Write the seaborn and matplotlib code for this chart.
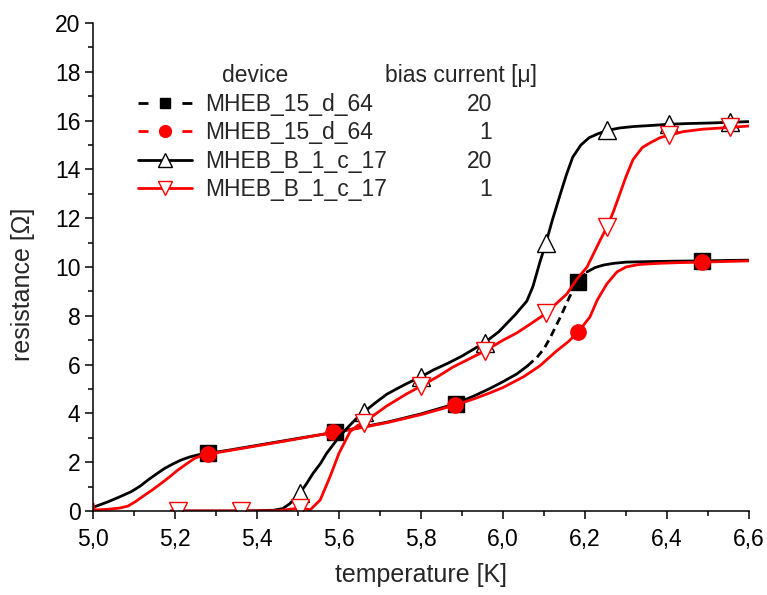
import numpy as np
import pandas as pd
import matplotlib
matplotlib.use("Agg")
import matplotlib.pyplot as plt
from matplotlib.lines import Line2D
from matplotlib.ticker import MultipleLocator, FixedLocator, FixedFormatter
import seaborn as sns

# ---- measured R(T) curves ------------------------------------------------
# MHEB_15_d_64, bias 20
temp_d64_20 = [5.00, 5.037, 5.065, 5.093, 5.115, 5.134, 5.155, 5.175, 5.195, 5.215,
               5.235, 5.256, 5.28, 5.33, 5.40, 5.47, 5.53, 5.59, 5.65, 5.72, 5.80,
               5.885, 5.93, 5.968, 6.00, 6.034, 6.06, 6.083, 6.10, 6.115, 6.14, 6.163,
               6.183, 6.205, 6.225, 6.245, 6.27, 6.30, 6.35, 6.42, 6.485, 6.55, 6.60]
res_d64_20 = [0.15, 0.38, 0.58, 0.79, 1.02, 1.27, 1.52, 1.75, 1.93, 2.09,
              2.21, 2.30, 2.36, 2.49, 2.69, 2.89, 3.06, 3.22, 3.42, 3.65, 3.98,
              4.40, 4.72, 5.02, 5.30, 5.62, 5.95, 6.30, 6.65, 7.10, 7.95, 8.80,
              9.40, 9.80, 9.98, 10.08, 10.15, 10.20, 10.22, 10.24, 10.25, 10.27, 10.28]
marks_d64_20 = [5.28, 5.59, 5.885, 6.183, 6.485]
dashed_span_d64_20 = (6.06, 6.205)

# MHEB_15_d_64, bias 1
temp_d64_1 = [5.00, 5.003, 5.037, 5.065, 5.085, 5.105, 5.126, 5.146, 5.166, 5.187,
              5.207, 5.228, 5.248, 5.265, 5.28, 5.33, 5.40, 5.47, 5.53, 5.585, 5.65,
              5.72, 5.80, 5.883, 5.93, 5.968, 6.00, 6.05, 6.09, 6.13, 6.16, 6.183,
              6.212, 6.23, 6.253, 6.278, 6.30, 6.33, 6.38, 6.43, 6.485, 6.55, 6.60]
res_d64_1 = [0.30, 0.04, 0.07, 0.12, 0.20, 0.40, 0.65, 0.88, 1.13, 1.40,
             1.68, 1.93, 2.16, 2.27, 2.33, 2.47, 2.67, 2.87, 3.05, 3.22, 3.40,
             3.63, 3.95, 4.34, 4.60, 4.84, 5.06, 5.50, 5.95, 6.55, 6.95, 7.33,
             7.95, 8.65, 9.30, 9.80, 10.00, 10.10, 10.15, 10.18, 10.20, 10.23, 10.25]
marks_d64_1 = [5.28, 5.585, 5.883, 6.183, 6.485]

# MHEB_B_1_c_17, bias 20
temp_c17_20 = [5.19, 5.207, 5.36, 5.44, 5.463, 5.48, 5.505, 5.52, 5.537, 5.555,
               5.57, 5.585, 5.60, 5.62, 5.64, 5.66, 5.69, 5.716, 5.74, 5.765, 5.80,
               5.83, 5.865, 5.90, 5.955, 5.99, 6.03, 6.058, 6.073, 6.09, 6.105, 6.12,
               6.14, 6.155, 6.17, 6.19, 6.21, 6.23, 6.254, 6.285, 6.32, 6.36, 6.404,
               6.45, 6.50, 6.553, 6.60]
res_c17_20 = [0.00, 0.00, 0.00, 0.03, 0.10, 0.30, 0.74, 1.10, 1.55, 1.95,
              2.37, 2.70, 3.03, 3.40, 3.75, 4.05, 4.45, 4.78, 5.00, 5.22, 5.50,
              5.78, 6.05, 6.35, 6.90, 7.35, 8.05, 8.60, 9.20, 10.20, 11.00, 11.90,
              13.00, 13.80, 14.50, 15.00, 15.30, 15.45, 15.60, 15.70, 15.76, 15.80, 15.85,
              15.88, 15.90, 15.93, 15.96]
marks_c17_20 = [5.207, 5.36, 5.505, 5.66, 5.80, 5.955, 6.105, 6.254, 6.404, 6.553]

# MHEB_B_1_c_17, bias 1
temp_c17_1 = [5.19, 5.207, 5.36, 5.45, 5.505, 5.53, 5.554, 5.578, 5.60, 5.627,
              5.645, 5.66, 5.683, 5.716, 5.765, 5.80, 5.84, 5.878, 5.955, 6.00,
              6.034, 6.07, 6.105, 6.13, 6.156, 6.18, 6.205, 6.237, 6.254, 6.27, 6.285,
              6.30, 6.317, 6.34, 6.36, 6.383, 6.404, 6.44, 6.488, 6.553, 6.60]
res_c17_1 = [0.00, 0.00, 0.00, 0.01, 0.12, 0.05, 0.45, 1.40, 2.37, 3.25,
             3.50, 3.62, 3.90, 4.30, 4.80, 5.12, 5.50, 5.90, 6.55, 7.00,
             7.30, 7.70, 8.10, 8.50, 8.90, 9.50, 10.00, 11.10, 11.65, 12.30, 13.00,
             13.70, 14.40, 14.90, 15.10, 15.30, 15.40, 15.55, 15.65, 15.72, 15.78]
marks_c17_1 = [5.207, 5.36, 5.505, 5.66, 5.80, 5.955, 6.105, 6.254, 6.404, 6.553]

devices = ["MHEB_15_d_64", "MHEB_15_d_64", "MHEB_B_1_c_17", "MHEB_B_1_c_17"]
bias_currents = ["20", "1", "20", "1"]

x_ticks = [5.0, 5.2, 5.4, 5.6, 5.8, 6.0, 6.2, 6.4, 6.6]
x_tick_labels = ["5,0", "5,2", "5,4", "5,6", "5,8", "6,0", "6,2", "6,4", "6,6"]
y_ticks = [0, 2, 4, 6, 8, 10, 12, 14, 16, 18, 20]

# ---- style ----------------------------------------------------------------
sns.set_style("ticks")
plt.rcParams["font.family"] = ["Liberation Sans", "DejaVu Sans"]

fig = plt.figure(figsize=(7.67, 5.95), dpi=100)
ax = fig.add_axes([0.1213, 0.1412, 0.8552, 0.8201])

LW = 2.0
MARKER_SIZE = {"s": 11, "o": 11, "^": 12.5, "v": 12.5}


def frame(t, r, marks):
    df = pd.DataFrame({"T": t, "R": r})
    df["marked"] = df["T"].isin(marks)
    return df


def draw(df, color, marker, mfc, line_pieces=None):
    pieces = line_pieces if line_pieces is not None else [(df, "-")]
    for part, ls in pieces:
        sns.lineplot(data=part, x="T", y="R", ax=ax, color=color, lw=LW,
                     sort=False, estimator=None, legend=False)
        if ls != "-":
            ax.get_lines()[-1].set_dashes((2.8, 1.8))
    m = df[df["marked"]]
    sns.lineplot(data=m, x="T", y="R", ax=ax, color=color, linestyle="none",
                 marker=marker, markersize=MARKER_SIZE[marker], mfc=mfc, mec=color,
                 mew=1.0, sort=False, estimator=None, legend=False)


d1 = frame(temp_d64_20, res_d64_20, marks_d64_20)
lo, hi = dashed_span_d64_20
pieces_d1 = [(d1[d1["T"] <= lo], "-"),
             (d1[(d1["T"] >= lo) & (d1["T"] <= hi)], "--"),
             (d1[d1["T"] >= hi], "-")]
draw(d1, "black", "s", "black", pieces_d1)

d2 = frame(temp_d64_1, res_d64_1, marks_d64_1)
draw(d2, "red", "o", "red")

d3 = frame(temp_c17_20, res_c17_20, marks_c17_20)
draw(d3, "black", "^", "white")

d4 = frame(temp_c17_1, res_c17_1, marks_c17_1)
draw(d4, "red", "v", "white")

# ---- axes -----------------------------------------------------------------
ax.set_xlim(5.0, 6.6)
ax.set_ylim(0, 20)
ax.xaxis.set_major_locator(FixedLocator(x_ticks))
ax.xaxis.set_major_formatter(FixedFormatter(x_tick_labels))
ax.xaxis.set_minor_locator(MultipleLocator(0.1))
ax.yaxis.set_major_locator(FixedLocator(y_ticks))
ax.yaxis.set_minor_locator(MultipleLocator(1))
ax.tick_params(which="both", direction="out", width=1.1, color="black",
               labelsize=16.5, labelcolor="black")
ax.tick_params(which="major", length=6)
ax.tick_params(which="minor", length=3.4)
ax.tick_params(axis="x", which="major", pad=6)
ax.tick_params(axis="y", which="major", pad=3)
sns.despine(ax=ax)
for s in ("left", "bottom"):
    ax.spines[s].set_linewidth(1.1)
    ax.spines[s].set_color("black")

ax.set_xlabel("temperature [K]", fontsize=18)
ax.set_ylabel("resistance [\u03a9]", fontsize=18)
ax.xaxis.set_label_coords(0.5, -0.131)
ax.yaxis.set_label_coords(-0.107, 0.465)
ax.xaxis.label.set_va("center")
ax.yaxis.label.set_va("center")

# ---- legend ---------------------------------------------------------------
handles = [
    Line2D([], [], color="black", lw=LW, dashes=(3.6, 4.3), marker="s", ms=7.5,
           mfc="black", mec="black"),
    Line2D([], [], color="red", lw=LW, dashes=(3.6, 4.3), marker="o", ms=8.5,
           mfc="red", mec="red"),
    Line2D([], [], color="black", lw=LW, marker="^", ms=9.5, mfc="white",
           mec="black", mew=1.0),
    Line2D([], [], color="red", lw=LW, marker="v", ms=9.5, mfc="white",
           mec="red", mew=1.0),
]
leg = ax.legend(handles, devices, loc="upper left", bbox_to_anchor=(0.0686, 0.857),
                frameon=False, fontsize=16.5, handlelength=2.36, handletextpad=0.57,
                labelspacing=0.24, borderpad=0, borderaxespad=0)

fig.canvas.draw()
inv = ax.transAxes.inverted()
row_y = []
for t in leg.get_texts():
    bb = t.get_window_extent()
    row_y.append(inv.transform(((bb.x0 + bb.x1) / 2, (bb.y0 + bb.y1) / 2))[1])
step = row_y[0] - row_y[1]
for yv, b in zip(row_y, bias_currents):
    ax.text(0.608, yv, b, transform=ax.transAxes, ha="right", va="center",
            fontsize=16.5)
head_y = row_y[0] + step
ax.text(0.197, head_y, "device", transform=ax.transAxes, ha="left", va="center",
        fontsize=16.5)
ax.text(0.445, head_y, "bias current [\u03bc]", transform=ax.transAxes, ha="left",
        va="center", fontsize=16.5)

fig.savefig("out.png", dpi=100)
